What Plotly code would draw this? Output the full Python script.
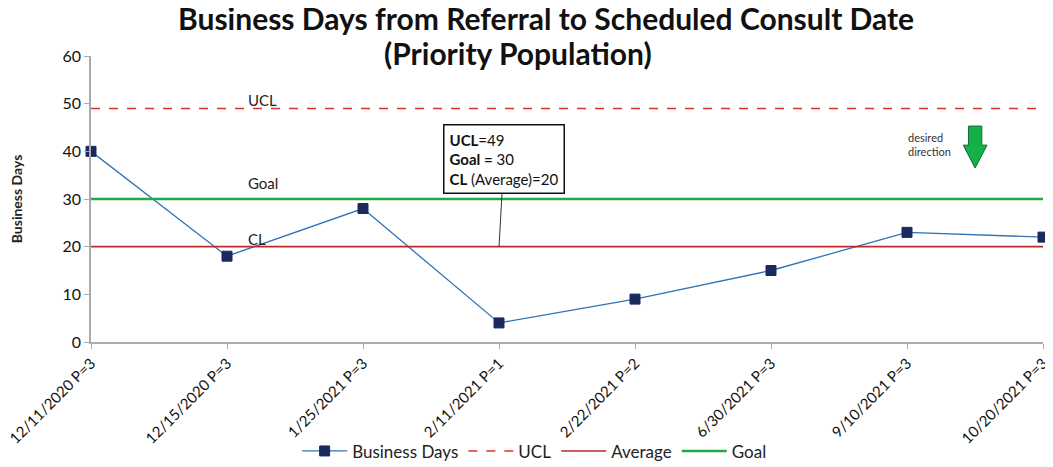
import plotly.graph_objects as go

dates = ["12/11/2020 P=3", "12/15/2020 P=3", "1/25/2021 P=3", "2/11/2021 P=1",
         "2/22/2021 P=2", "6/30/2021 P=3", "9/10/2021 P=3", "10/20/2021 P=3"]
days = [40, 18, 28, 4, 9, 15, 23, 22]
ucl = [49] * len(dates)
avg = [20] * len(dates)
goal = [30] * len(dates)

FONT = "Lato"

fig = go.Figure()
fig.add_trace(go.Scatter(x=dates, y=days, name="Business Days", mode="lines+markers",
                         cliponaxis=False,
                         line=dict(color="#2e75b6", width=1.3),
                         marker=dict(symbol="square", size=10, color="#1b2a5e",
                                     line=dict(color="#1b2a5e", width=1))))
fig.add_trace(go.Scatter(x=dates, y=ucl, name="UCL", mode="lines",
                         line=dict(color="#e03030", width=1.6, dash="dash")))
fig.add_trace(go.Scatter(x=dates, y=avg, name="Average", mode="lines",
                         line=dict(color="#c0292b", width=1.6)))
fig.add_trace(go.Scatter(x=dates, y=goal, name="Goal", mode="lines",
                         line=dict(color="#22a94a", width=2.5)))

# title, two lines placed separately
fig.add_annotation(x=0.4775, xref="paper", y=1.132, yref="paper", yanchor="middle",
                   text="<b>Business Days from Referral to Scheduled Consult Date</b>",
                   showarrow=False, font=dict(family=FONT, size=30, color="#111"))
fig.add_annotation(x=0.449, xref="paper", y=1.010, yref="paper", yanchor="middle",
                   text="<b>(Priority Population)</b>",
                   showarrow=False, font=dict(family=FONT, size=30, color="#111"))

# line labels
for txt, yv, sh in [("UCL", 49, -3), ("Goal", 30, 5), ("CL", 20, -3)]:
    fig.add_annotation(x=0.163, xref="paper", y=yv, yref="y", text=txt,
                       showarrow=False, yanchor="bottom", yshift=sh,
                       font=dict(family=FONT, size=15, color="#222"))

# callout box
fig.add_annotation(x=dates[3], y=20, ax=5, ay=-88, text="<b>UCL</b>=49<br><b>Goal =</b> 30<br><b>CL</b> (Average)=20",
                   showarrow=True, arrowhead=0, arrowwidth=1, arrowcolor="#333",
                   align="left", bordercolor="#111", borderwidth=1.5, borderpad=5,
                   bgcolor="white", font=dict(family=FONT, size=15, color="#111"))

# desired direction
fig.add_annotation(x=0.905, xref="paper", y=41.5, yref="y", text="desired<br>direction",
                   showarrow=False, align="left", font=dict(family=FONT, size=11, color="#333"))
ax0 = 0.9287
fig.add_shape(type="path", xref="paper", yref="y",
              path=f"M {ax0-0.007},45.3 L {ax0+0.007},45.3 L {ax0+0.007},41.3 L {ax0+0.0125},41.3 "
                   f"L {ax0},36.5 L {ax0-0.0125},41.3 L {ax0-0.007},41.3 Z",
              fillcolor="#16b04a", line=dict(color="#0e6b2e", width=1))

fig.update_layout(
    width=1053, height=467,
    margin=dict(l=83, r=18, t=48, b=133),
    paper_bgcolor="white", plot_bgcolor="white",
    font=dict(family=FONT, size=14, color="#222"),
    xaxis=dict(type="category", range=[0, 7], tickangle=-45, showline=True, automargin=False,
               linecolor="#aaa", linewidth=1.5, ticks="outside", ticklen=5, tickcolor="#aaa",
               showgrid=False, zeroline=False, tickfont=dict(family=FONT, size=15, color="#111")),
    yaxis=dict(range=[0, 60], dtick=10, showline=True, linecolor="#aaa", linewidth=1.5, automargin=False,
               ticks="outside", ticklen=5, tickcolor="#aaa", showgrid=False, zeroline=False,
               tickfont=dict(family=FONT, size=16, color="#111"),
               title=dict(text="<b>Business Days</b>", font=dict(family=FONT, size=14), standoff=38)),
    legend=dict(orientation="h", x=0.466, xanchor="center", xref="paper",
                y=0.012, yanchor="bottom", yref="container",
                itemwidth=45, bgcolor="rgba(0,0,0,0)", font=dict(family=FONT, size=17, color="#222")),
    showlegend=True,
)

fig.write_html("out.html")
